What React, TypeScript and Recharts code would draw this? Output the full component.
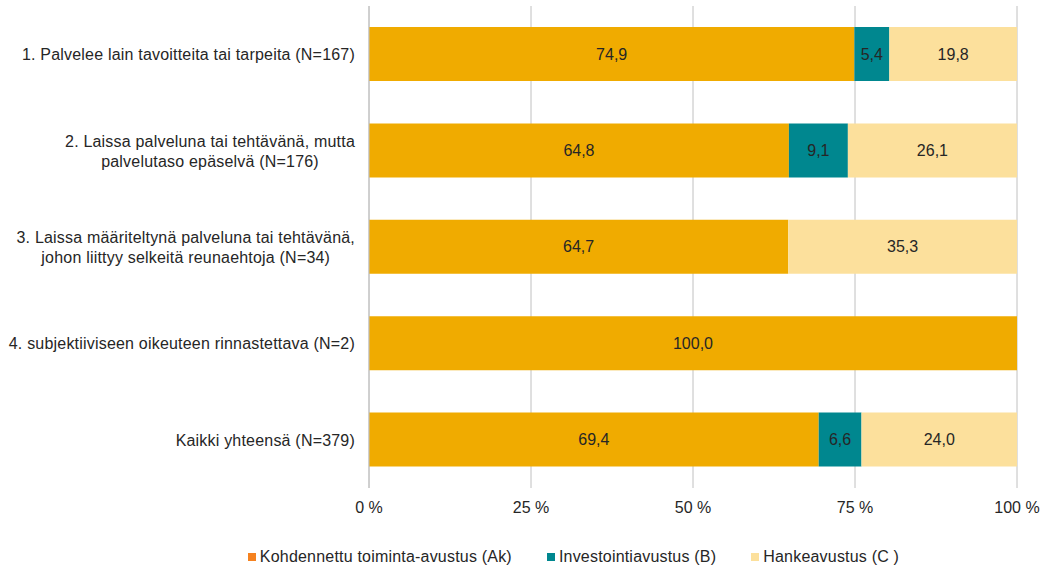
import { BarChart, Bar, XAxis, YAxis, CartesianGrid, Legend, LabelList } from "recharts"

const categories = [
  "1. Palvelee lain tavoitteita tai tarpeita (N=167)",
  "2. Laissa palveluna tai tehtävänä, mutta\npalvelutaso epäselvä (N=176)",
  "3. Laissa määriteltynä palveluna tai tehtävänä,\njohon liittyy selkeitä reunaehtoja (N=34)",
  "4. subjektiiviseen oikeuteen rinnastettava (N=2)",
  "Kaikki yhteensä (N=379)",
]
const ak = [74.9, 64.8, 64.7, 100.0, 69.4]
const b = [5.4, 9.1, 0, 0, 6.6]
const c = [19.8, 26.1, 35.3, 0, 24.0]
const xTicks = [0, 25, 50, 75, 100]

const series = [
  { key: "ak", name: "Kohdennettu toiminta-avustus (Ak)", fill: "#F0AB00", marker: "#F58220" },
  { key: "b", name: "Investointiavustus (B)", fill: "#00878F", marker: "#00878F" },
  { key: "c", name: "Hankeavustus (C )", fill: "#FCE09C", marker: "#FCE09C" },
]

const data = categories.map((label, i) => ({ label, ak: ak[i], b: b[i], c: c[i] }))

const FONT = "'Liberation Sans', Arial, sans-serif"
const FS = 16
const LS = 0.2

let ctx: CanvasRenderingContext2D | null = null
function textWidth(s: string) {
  if (!ctx) ctx = document.createElement("canvas").getContext("2d")
  if (!ctx) return s.length * 8
  ctx.font = `${FS}px 'Liberation Sans'`
  return ctx.measureText(s).width + s.length * LS
}

// multi-line labels: block right-aligned, lines centred within it
function CategoryTick(props: any) {
  const { x, y, payload } = props
  const lines = String(payload.value).split("\n")
  const w = Math.max(...lines.map(textWidth))
  const cx = x - 6 - w / 2
  const lh = 20
  const y0 = y - ((lines.length - 1) * lh) / 2
  return (
    <text x={cx} y={y0} textAnchor="middle" fontSize={FS} letterSpacing={LS} fill="#262626" fontFamily={FONT} dominantBaseline="central">
      {lines.map((l, i) => (
        <tspan key={i} x={cx} y={y0 + i * lh}>{l}</tspan>
      ))}
    </text>
  )
}

function LegendContent() {
  return (
    <div style={{ display: "flex", justifyContent: "center", gap: 35, fontFamily: FONT, fontSize: FS, letterSpacing: LS, color: "#262626", paddingLeft: 130, paddingTop: 20, lineHeight: "18px" }}>
      {series.map((s) => (
        <span key={s.key} style={{ display: "flex", alignItems: "center" }}>
          <span style={{ width: 8, height: 8, background: s.marker, marginRight: 4, display: "inline-block" }} />
          {s.name}
        </span>
      ))}
    </div>
  )
}

const fmt = (v: any) => (v ? Number(v).toFixed(1).replace(".", ",") : "")

export default function App() {
  return (
    <div style={{ position: "absolute", left: 0, top: 0, background: "#fff" }}>
      <BarChart
        width={1044}
        height={568}
        data={data}
        layout="vertical"
        margin={{ top: 6, right: 27, left: 0, bottom: 0 }}
      >
        <CartesianGrid horizontal={false} stroke="#C0C0C0" />
        <XAxis
          type="number"
          domain={[0, 100]}
          ticks={xTicks}
          allowDataOverflow
          tickFormatter={(v) => `${v} %`}
          axisLine={false}
          tickLine={false}
          tickMargin={8}
          height={40}
          tick={{ fontSize: FS, fill: "#262626", fontFamily: FONT }}
        />
        <YAxis
          type="category"
          dataKey="label"
          width={369}
          axisLine={{ stroke: "#C0C0C0" }}
          tickLine={false}
          tick={<CategoryTick />}
        />
        <Legend verticalAlign="bottom" height={40} content={<LegendContent />} />
        {series.map((s) => (
          <Bar key={s.key} dataKey={s.key} name={s.name} stackId="a" fill={s.fill} barSize={54} isAnimationActive={false}>
            <LabelList dataKey={s.key} position="center" formatter={fmt} fontSize={FS} fill="#262626" fontFamily={FONT} />
          </Bar>
        ))}
      </BarChart>
    </div>
  )
}
